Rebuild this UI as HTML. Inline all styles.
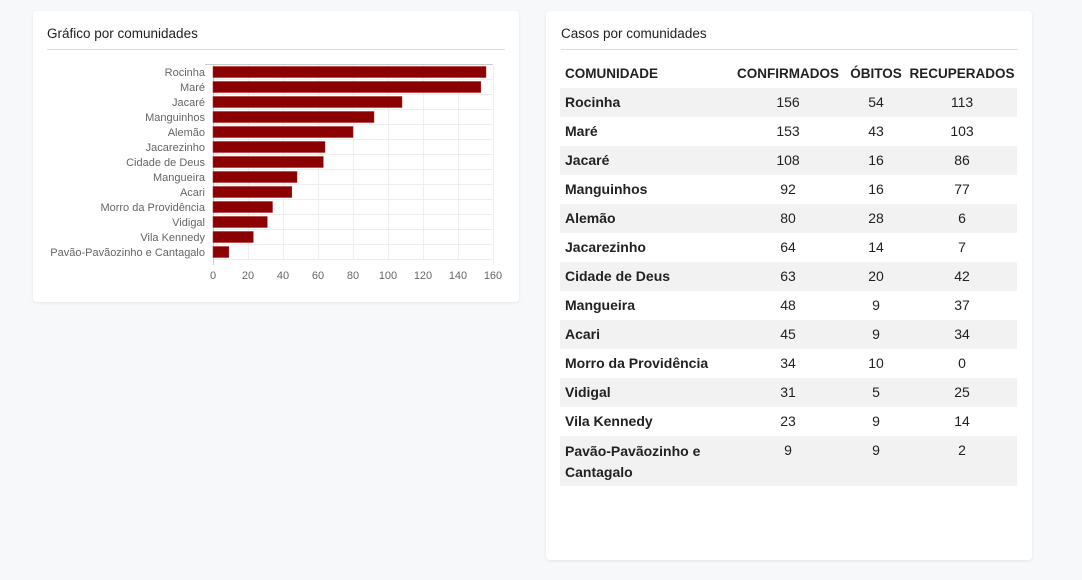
<!DOCTYPE html><html><head><meta charset="utf-8"><style>
body{margin:0;width:1082px;height:580px;background:#f7f8fa;font-family:"Liberation Sans",sans-serif;position:relative;overflow:hidden}
.card{position:absolute;background:#fff;border-radius:4px;box-shadow:0 1px 3px rgba(0,0,0,.08)}
.t{position:absolute;font-size:13.5px;color:#222}
.hr{position:absolute;height:1px;background:#ddd}
.r{position:absolute;left:560px;width:457px;height:29px;font-size:14px;color:#222}
.r.g{background:#f2f2f2}
.r span{position:absolute;top:6px}
.n{width:80px;text-align:center}
.c1{left:188px}.c2{left:276px}.c3{left:362px}
.nm{left:5px;font-weight:bold}
</style></head><body>
<div class="card" style="left:33px;top:11px;width:486px;height:291px"></div>
<div class="card" style="left:546px;top:11px;width:486px;height:549px"></div>
<div class="t" style="left:47px;top:26px">Gráfico por comunidades</div>
<div class="hr" style="left:47px;top:49px;width:458px"></div>
<div class="t" style="left:561px;top:26px">Casos por comunidades</div>
<div class="hr" style="left:561px;top:49px;width:457px"></div>
<svg style="position:absolute;left:0;top:0" width="1082" height="580" font-family="Liberation Sans" font-size="11" fill="#666">
<g stroke="#eee" stroke-width="1">
<line x1="248.5" y1="65" x2="248.5" y2="260"/><line x1="283.5" y1="65" x2="283.5" y2="260"/><line x1="318.5" y1="65" x2="318.5" y2="260"/><line x1="353.5" y1="65" x2="353.5" y2="260"/><line x1="388.5" y1="65" x2="388.5" y2="260"/><line x1="423.5" y1="65" x2="423.5" y2="260"/><line x1="458.5" y1="65" x2="458.5" y2="260"/><line x1="493.5" y1="65" x2="493.5" y2="265"/>
<line x1="213" y1="79.5" x2="493" y2="79.5"/><line x1="213" y1="94.5" x2="493" y2="94.5"/><line x1="213" y1="109.5" x2="493" y2="109.5"/><line x1="213" y1="124.5" x2="493" y2="124.5"/><line x1="213" y1="139.5" x2="493" y2="139.5"/><line x1="213" y1="154.5" x2="493" y2="154.5"/><line x1="213" y1="169.5" x2="493" y2="169.5"/><line x1="213" y1="184.5" x2="493" y2="184.5"/><line x1="213" y1="199.5" x2="493" y2="199.5"/><line x1="213" y1="214.5" x2="493" y2="214.5"/><line x1="213" y1="229.5" x2="493" y2="229.5"/><line x1="213" y1="244.5" x2="493" y2="244.5"/><line x1="213" y1="259.5" x2="493" y2="259.5"/>
</g>
<line x1="205" y1="64.5" x2="493" y2="64.5" stroke="#ccc"/>
<line x1="213.5" y1="64" x2="213.5" y2="265" stroke="#ccc"/>
<g fill="#8b0000" stroke="#b02020" stroke-width=".5">
<rect x="213" y="66.5" width="273" height="11"/><rect x="213" y="81.5" width="267.8" height="11"/><rect x="213" y="96.5" width="189" height="11"/><rect x="213" y="111.5" width="161" height="11"/><rect x="213" y="126.5" width="140" height="11"/><rect x="213" y="141.5" width="112" height="11"/><rect x="213" y="156.5" width="110.3" height="11"/><rect x="213" y="171.5" width="84" height="11"/><rect x="213" y="186.5" width="78.8" height="11"/><rect x="213" y="201.5" width="59.5" height="11"/><rect x="213" y="216.5" width="54.3" height="11"/><rect x="213" y="231.5" width="40.3" height="11"/><rect x="213" y="246.5" width="15.8" height="11"/>
</g>
<g text-anchor="end">
<text x="205" y="76">Rocinha</text><text x="205" y="91">Maré</text><text x="205" y="106">Jacaré</text><text x="205" y="121">Manguinhos</text><text x="205" y="136">Alemão</text><text x="205" y="151">Jacarezinho</text><text x="205" y="166">Cidade de Deus</text><text x="205" y="181">Mangueira</text><text x="205" y="196">Acari</text><text x="205" y="211">Morro da Providência</text><text x="205" y="226">Vidigal</text><text x="205" y="241">Vila Kennedy</text><text x="205" y="256">Pavão-Pavãozinho e Cantagalo</text>
</g>
<g text-anchor="middle">
<text x="213" y="279">0</text><text x="248" y="279">20</text><text x="283" y="279">40</text><text x="318" y="279">60</text><text x="353" y="279">80</text><text x="388" y="279">100</text><text x="423" y="279">120</text><text x="458" y="279">140</text><text x="493" y="279">160</text>
</g>
</svg>
<div class="r" style="top:59px;font-weight:bold;font-size:13.5px"><span class="nm" style="top:7px">COMUNIDADE</span><span class="n c1" style="top:7px;left:168px;width:120px">CONFIRMADOS</span><span class="n c2" style="top:7px">ÓBITOS</span><span class="n c3" style="top:7px;left:342px;width:120px">RECUPERADOS</span></div>
<div class="r g" style="top:88px"><span class="nm">Rocinha</span><span class="n c1">156</span><span class="n c2">54</span><span class="n c3">113</span></div>
<div class="r" style="top:117px"><span class="nm">Maré</span><span class="n c1">153</span><span class="n c2">43</span><span class="n c3">103</span></div>
<div class="r g" style="top:146px"><span class="nm">Jacaré</span><span class="n c1">108</span><span class="n c2">16</span><span class="n c3">86</span></div>
<div class="r" style="top:175px"><span class="nm">Manguinhos</span><span class="n c1">92</span><span class="n c2">16</span><span class="n c3">77</span></div>
<div class="r g" style="top:204px"><span class="nm">Alemão</span><span class="n c1">80</span><span class="n c2">28</span><span class="n c3">6</span></div>
<div class="r" style="top:233px"><span class="nm">Jacarezinho</span><span class="n c1">64</span><span class="n c2">14</span><span class="n c3">7</span></div>
<div class="r g" style="top:262px"><span class="nm">Cidade de Deus</span><span class="n c1">63</span><span class="n c2">20</span><span class="n c3">42</span></div>
<div class="r" style="top:291px"><span class="nm">Mangueira</span><span class="n c1">48</span><span class="n c2">9</span><span class="n c3">37</span></div>
<div class="r g" style="top:320px"><span class="nm">Acari</span><span class="n c1">45</span><span class="n c2">9</span><span class="n c3">34</span></div>
<div class="r" style="top:349px"><span class="nm">Morro da Providência</span><span class="n c1">34</span><span class="n c2">10</span><span class="n c3">0</span></div>
<div class="r g" style="top:378px"><span class="nm">Vidigal</span><span class="n c1">31</span><span class="n c2">5</span><span class="n c3">25</span></div>
<div class="r" style="top:407px"><span class="nm">Vila Kennedy</span><span class="n c1">23</span><span class="n c2">9</span><span class="n c3">14</span></div>
<div class="r g" style="top:436px;height:50px"><span class="nm" style="line-height:21px;top:5px">Pavão-Pavãozinho e<br>Cantagalo</span><span class="n c1">9</span><span class="n c2">9</span><span class="n c3">2</span></div>
</body></html>
